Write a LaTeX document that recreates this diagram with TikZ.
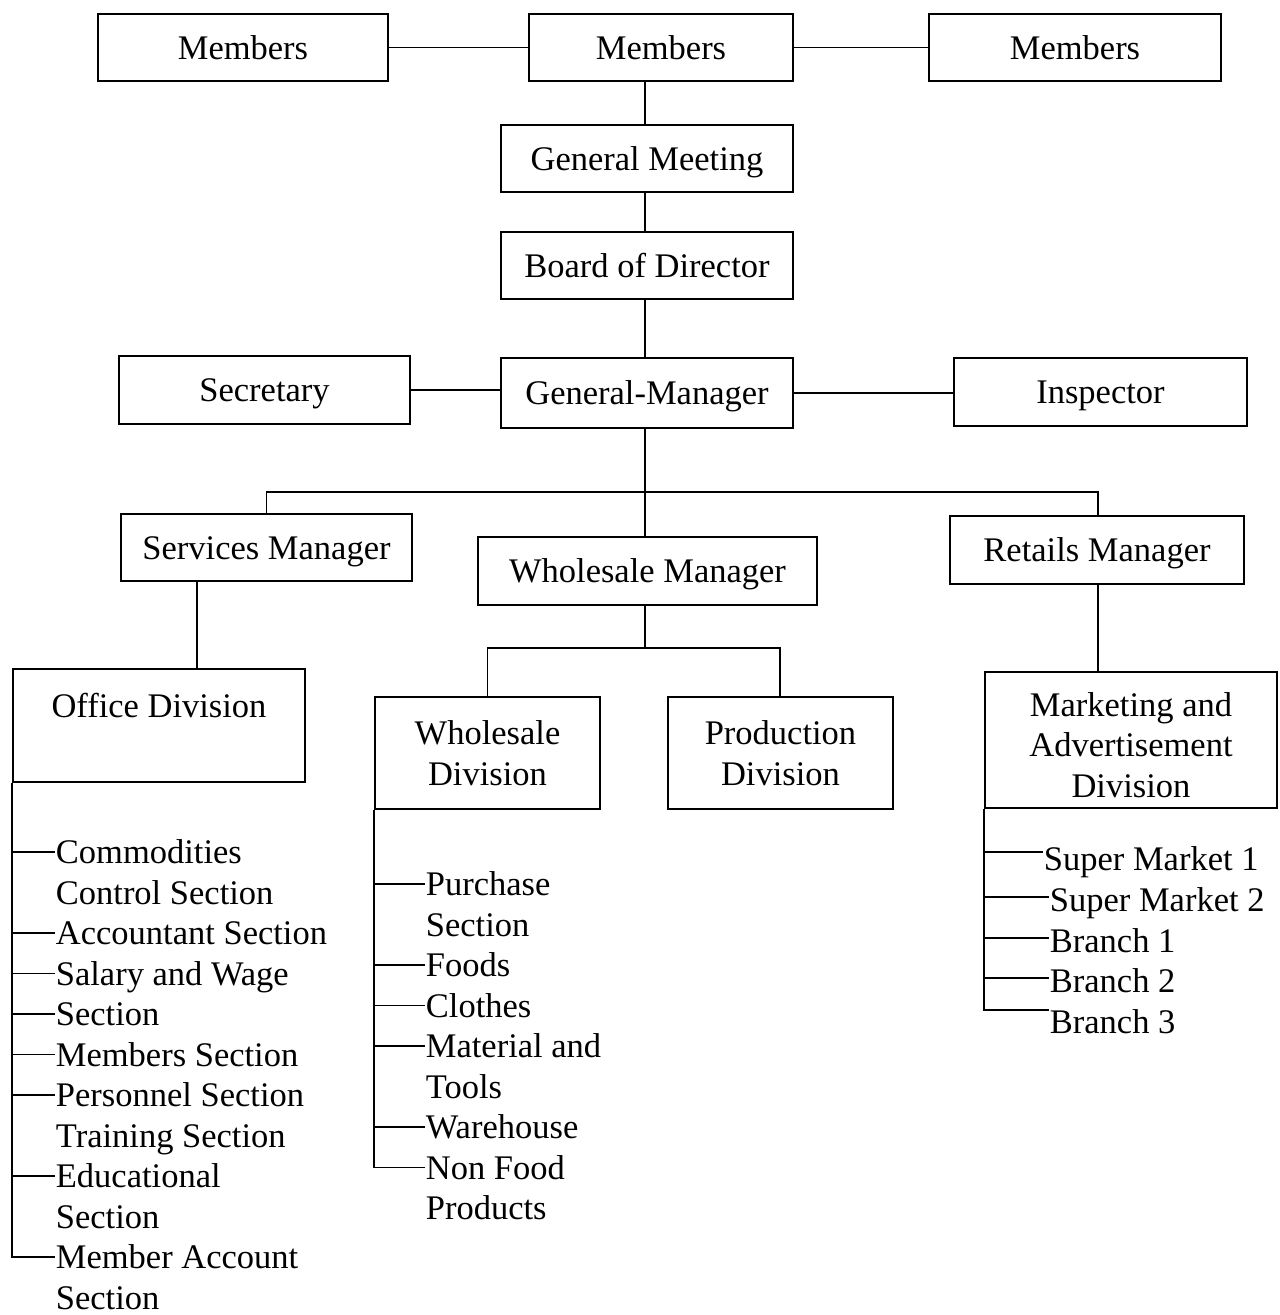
\documentclass[tikz,border=0pt]{standalone}
\usepackage{fontspec}
\setmainfont{Liberation Serif}
\newcommand{\chartfont}{\fontsize{34.5}{40.6}\selectfont}
\begin{document}
\begin{tikzpicture}[x=1pt,y=-1pt,line width=1.8pt,
  box/.style={draw,inner sep=0pt,align=center,font=\chartfont},
  onebox/.style={box,text height=23pt,text depth=0pt},
  item/.style={anchor=west,inner sep=0pt,text height=23pt,text depth=0pt,font=\chartfont}]
\useasboundingbox (0,0) rectangle (1280,1315);

% ---- top of the organisation ----
\node[onebox,minimum width=290pt,minimum height=67pt] (ml) at (243,47.5) {Members};
\node[onebox,minimum width=264pt,minimum height=67pt] (mc) at (661,47.5) {Members};
\node[onebox,minimum width=292pt,minimum height=67pt] (mr) at (1075,47.5) {Members};
\node[onebox,minimum width=292pt,minimum height=67pt] (gmeet) at (647,158.5) {General Meeting};
\node[onebox,minimum width=292pt,minimum height=67pt] (board) at (647,265.5) {Board of Director};
\node[onebox,minimum width=292pt,minimum height=70pt] (gm) at (647,393) {General-Manager};
\node[onebox,minimum width=291pt,minimum height=68pt] (sec) at (264.5,390) {Secretary};
\node[onebox,minimum width=293pt,minimum height=68pt] (insp) at (1100.5,392) {Inspector};

% ---- managers ----
\node[onebox,minimum width=291pt,minimum height=67pt] (sm) at (266.5,547.5) {Services Manager};
\node[onebox,minimum width=339pt,minimum height=68pt] (wm) at (647.5,571) {Wholesale Manager};
\node[onebox,minimum width=294pt,minimum height=68pt] (rm) at (1097,550) {Retails Manager};

% ---- divisions ----
\node[box,minimum width=292pt,minimum height=113pt] (od) at (159,725.5) {Office Division\\ \mbox{}};
\node[box,minimum width=225pt,minimum height=112pt] (wd) at (487.5,753) {Wholesale\\Division};
\node[box,minimum width=225pt,minimum height=112pt] (pd) at (780.5,753) {Production\\Division};
\node[box,minimum width=292pt,minimum height=136pt] (mk) at (1131,740) {\rule{0pt}{34pt}Marketing and\\Advertisement\\Division};

% ---- connector helpers ----
\coordinate (spine) at (645,0);
\coordinate (busR) at (1098,492);
\coordinate (wbus) at (645,648);
\coordinate (wbR) at (780,648);
\coordinate (sod) at (197,0);

\draw (ml.east) -- (mc.west);
\draw (mc.east) -- (mr.west);
\draw (mc.south -| spine) -- (gmeet.north -| spine);
\draw (gmeet.south -| spine) -- (board.north -| spine);
\draw (board.south -| spine) -- (gm.north -| spine);
\draw (sec.east) -- (sec.east -| gm.west);
\draw (gm.east) -- (gm.east -| insp.west);
\draw (gm.south -| spine) -- (wm.north -| spine);
\draw (sm.north) |- (busR) -- (rm.north -| busR);
\draw (sm.south -| sod) -- (od.north -| sod);
\draw (wm.south -| spine) -- (wbus);
\draw (wd.north) |- (wbR) -- (pd.north -| wbR);
\draw (rm.south -| busR) -- (mk.north -| busR);

% ---- sections of the office division ----
\node[item] (c1)  at (55,852)    {Commodities};
\node[item] (c1b) at (55,892.5)  {Control Section};
\node[item] (c2)  at (55,933)    {Accountant Section};
\node[item] (c3)  at (55,973.5)  {Salary and Wage};
\node[item] (c4)  at (55,1014)   {Section};
\node[item] (c5)  at (55,1054.5) {Members Section};
\node[item] (c6)  at (55,1095)   {Personnel Section};
\node[item] (c6b) at (55,1135.5) {Training Section};
\node[item] (c7)  at (55,1176)   {Educational};
\node[item] (c7b) at (55,1216.5) {Section};
\node[item] (c8)  at (55,1257)   {Member Account};
\node[item] (c8b) at (55,1297.5) {Section};
\draw (od.south west) |- (c8.west);
\foreach \n in {c1,c2,c3,c4,c5,c6,c7}
  \draw (od.south west |- \n.west) -- (\n.west);

% ---- sections of the wholesale division ----
\node[item] (p1)  at (425,884)    {Purchase};
\node[item] (p1b) at (425,924.5)  {Section};
\node[item] (p2)  at (425,965)    {Foods};
\node[item] (p3)  at (425,1005.5) {Clothes};
\node[item] (p4)  at (425,1046)   {Material and};
\node[item] (p4b) at (425,1086.5) {Tools};
\node[item] (p5)  at (425,1127)   {Warehouse};
\node[item] (p6)  at (425,1167.5) {Non Food};
\node[item] (p6b) at (425,1208)   {Products};
\draw (wd.south west) |- (p6.west);
\foreach \n in {p1,p2,p3,p4,p5}
  \draw (wd.south west |- \n.west) -- (\n.west);

% ---- outlets of the marketing division ----
\node[item] (r1) at (1043,859) {Super Market 1};
\node[item] (r2) at (1049,900) {Super Market 2};
\node[item] (r3) at (1049,941) {Branch 1};
\node[item] (r4) at (1049,981) {Branch 2};
\node[item] (r5) at (1049,1022) {Branch 3};
\draw (mk.south west) |- (r5.north west);
\draw (mk.south west |- r1.west) ++(0,-7) -- ([yshift=7pt]r1.west);
\foreach \n in {r2,r3,r4}
  \draw ([yshift=3pt]mk.south west |- \n.west) -- ([yshift=3pt]\n.west);
\end{tikzpicture}
\end{document}
